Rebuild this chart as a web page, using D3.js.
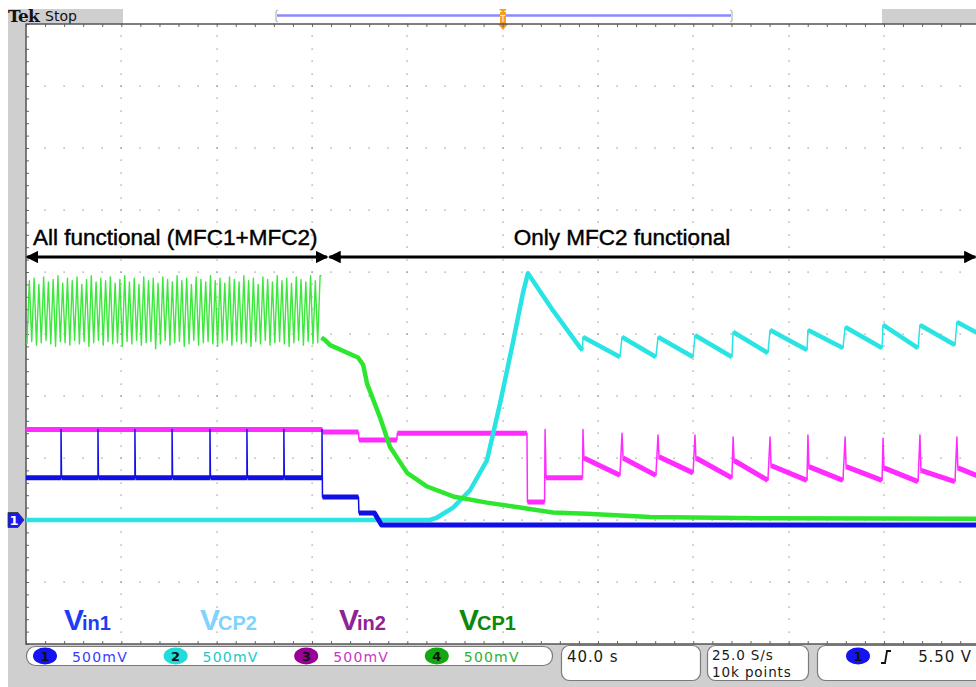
<!DOCTYPE html>
<html>
<head>
<meta charset="utf-8">
<script src="https://cdn.jsdelivr.net/npm/d3@7"></script>
<style>
  html, body { margin: 0; padding: 0; background: #fff; }
  svg { display: block; }
</style>
</head>
<body>
<svg id="scope" width="976" height="687"></svg>
<script>
// horizontal: seconds (40 s/div), vertical: volts (500 mV/div), 0 V = channel 1 marker
const timeDomain = [0, 400];
const voltDomain = [-1, 4];

// Vin1 (ch1, blue)
const vin1 = [
  [0, 0.34], [14.7, 0.34], [14.7, 0.73], [14.9, 0.34], [30.2, 0.34], [30.2, 0.73], [30.4, 0.34],
  [45.7, 0.34], [45.7, 0.73], [45.9, 0.34], [61.3, 0.34], [61.3, 0.73], [61.5, 0.34],
  [77.2, 0.34], [77.2, 0.73], [77.4, 0.34], [92.7, 0.34], [92.7, 0.73], [92.9, 0.34],
  [108.2, 0.34], [108.2, 0.73], [108.4, 0.34], [124.2, 0.34], [124.2, 0.73], [124.4, 0.185],
  [139.5, 0.185], [139.7, 0.056], [146.2, 0.056], [149.2, -0.04], [400, -0.04]
];

// Vin2 (ch3, magenta)
const vin2 = [
  [0, 0.73], [124.4, 0.73], [124.6, 0.71], [139.5, 0.71], [139.7, 0.645], [155.6, 0.645],
  [155.8, 0.70], [210.2, 0.70], [210.4, 0.145], [217.6, 0.145], [217.8, 0.73], [218.2, 0.34],
  [233.5, 0.34], [233.7, 0.73], [234.1, 0.50], [249.2, 0.36],
  [250.1, 0.70], [250.5, 0.50], [264.3, 0.36],
  [265.2, 0.685], [265.6, 0.51], [279.9, 0.38],
  [280.7, 0.685], [281.1, 0.50], [296.2, 0.34],
  [296.7, 0.67], [297.1, 0.48], [311.3, 0.32],
  [312.2, 0.67], [312.6, 0.44], [327.7, 0.32],
  [328.1, 0.685], [328.5, 0.43], [342.8, 0.32],
  [343.7, 0.67], [344.1, 0.43], [359.2, 0.32],
  [359.6, 0.66], [360.0, 0.42], [374.3, 0.31],
  [375.1, 0.685], [375.5, 0.40], [389.8, 0.31],
  [390.6, 0.67], [391.0, 0.42], [400, 0.35]
];

// VCP2 (ch2, cyan)
const vcp2 = [
  [0, 0], [169.5, 0], [172.5, 0.02], [179.2, 0.10], [186.3, 0.24], [193.4, 0.48], [198.9, 0.94],
  [204.3, 1.43], [208.5, 1.83], [210.6, 1.99], [221.1, 1.69], [232.5, 1.39], [233.5, 1.37],
  [233.7, 1.476], [249.2, 1.315],
  [250.1, 1.476], [264.3, 1.315],
  [265.2, 1.476], [279.9, 1.315],
  [280.7, 1.49], [296.2, 1.315],
  [296.7, 1.516], [311.3, 1.347],
  [312.2, 1.532], [327.7, 1.371],
  [328.1, 1.532], [342.8, 1.387],
  [343.7, 1.556], [359.2, 1.387],
  [359.6, 1.573], [374.3, 1.387],
  [375.1, 1.573], [389.8, 1.411],
  [390.6, 1.597], [400, 1.50]
];

// VCP1 (ch4, green): oscillation teeth [trough time, trough V, peak V]
const vcp1Teeth = [
  [0.4, 1.42, 1.93], [2.4, 1.44, 1.95], [4.4, 1.41, 1.90], [6.4, 1.43, 1.96], [8.4, 1.45, 1.92],
  [10.4, 1.42, 1.94], [12.4, 1.40, 1.97], [14.4, 1.44, 1.91], [16.4, 1.43, 1.95], [18.4, 1.41, 1.93],
  [20.4, 1.45, 1.96], [22.4, 1.42, 1.90], [24.4, 1.44, 1.94], [26.4, 1.40, 1.97], [28.4, 1.43, 1.92],
  [30.4, 1.45, 1.95], [32.4, 1.41, 1.93], [34.4, 1.44, 1.96], [36.4, 1.42, 1.91], [38.4, 1.43, 1.94],
  [40.4, 1.40, 1.97], [42.4, 1.44, 1.92], [44.4, 1.42, 1.95], [46.4, 1.45, 1.90], [48.4, 1.41, 1.96],
  [50.4, 1.43, 1.93], [52.4, 1.44, 1.95], [54.4, 1.38, 1.91], [56.4, 1.42, 1.96], [58.4, 1.45, 1.94],
  [60.4, 1.41, 1.92], [62.4, 1.43, 1.97], [64.4, 1.44, 1.93], [66.4, 1.40, 1.95], [68.4, 1.42, 1.90],
  [70.4, 1.45, 1.96], [72.4, 1.41, 1.94], [74.4, 1.43, 1.92], [76.4, 1.44, 1.97], [78.4, 1.42, 1.93],
  [80.4, 1.40, 1.95], [82.4, 1.43, 1.91], [84.4, 1.45, 1.96], [86.4, 1.41, 1.94], [88.4, 1.44, 1.92],
  [90.4, 1.42, 1.97], [92.4, 1.43, 1.93], [94.4, 1.40, 1.95], [96.4, 1.44, 1.90], [98.4, 1.42, 1.96],
  [100.4, 1.45, 1.94], [102.4, 1.41, 1.92], [104.4, 1.43, 1.97], [106.4, 1.44, 1.93], [108.4, 1.42, 1.95],
  [110.4, 1.40, 1.91], [112.4, 1.43, 1.96], [114.4, 1.45, 1.94], [116.4, 1.41, 1.92], [118.4, 1.44, 1.97],
  [120.4, 1.42, 1.93], [122.4, 1.43, 1.97]
];
// VCP1 after MFC1 stops
const vcp1Decay = [
  [124.0, 1.47], [125.5, 1.45], [127.6, 1.41], [139.3, 1.31], [141.5, 1.25], [143.1, 1.10],
  [148.5, 0.83], [152.7, 0.59], [159.9, 0.38], [168.3, 0.27], [179.2, 0.19], [193.4, 0.14],
  [207.3, 0.10], [221.1, 0.06], [235.4, 0.05], [261.8, 0.025], [308, 0.015], [400, 0.01]
];

const channelIds = ['1', '2', '3', '4'];
const channelScales = ['500mV', '500mV', '500mV', '500mV'];
const traceLabels = [['V', 'in1'], ['V', 'CP2'], ['V', 'in2'], ['V', 'CP1']];
const timebase = '40.0 s';
const acquisition = ['25.0 S/s', '10k points'];
const triggerLevel = '5.50 V';
const phases = ['All functional (MFC1+MFC2)', 'Only MFC2 functional'];
const phaseSpans = [[0.4, 126.3], [127.3, 398.4]];

const svg = d3.select('#scope');
const pLeft = 26, pTop = 24, divW = 95.33, divH = 62;
const pRight = pLeft + 10 * divW, pBottom = pTop + 10 * divH;

const x = d3.scaleLinear().domain(timeDomain).range([pLeft, pRight]);
const y = d3.scaleLinear().domain(voltDomain).range([pBottom, pTop]);

// Background frame
svg.append('rect').attr('x', 8).attr('y', 9).attr('width', 968).attr('height', 678).attr('fill', '#cfcfcf');
svg.append('rect').attr('x', pLeft).attr('y', pTop).attr('width', pRight - pLeft).attr('height', pBottom - pTop).attr('fill', '#fff');

// Header: record view
svg.append('rect').attr('x', 123).attr('y', 9).attr('width', 759).attr('height', 15).attr('fill', '#fff');
svg.append('line').attr('x1', 277).attr('x2', 731).attr('y1', 15.5).attr('y2', 15.5)
  .attr('stroke', '#8a8aff').attr('stroke-width', 2.5);
[[276, 1], [732, -1]].forEach(([bx, d]) => {
  svg.append('path')
    .attr('d', `M${bx + 2 * d},10 L${bx},11 L${bx},21 L${bx + 2 * d},22`)
    .attr('fill', 'none').attr('stroke', '#aaa').attr('stroke-width', 1);
});
svg.append('rect').attr('x', 500).attr('y', 12).attr('width', 6).attr('height', 13).attr('fill', '#f5a020');
svg.append('path').attr('d', 'M499,9 L507,9 L503,13 Z').attr('fill', '#f5a020');
svg.append('path').attr('d', 'M498,24 L508,24 L503,30 Z').attr('fill', '#f59a1e');
svg.append('text').attr('x', 503).attr('y', 22).attr('text-anchor', 'middle')
  .attr('font-family', 'DejaVu Sans').attr('font-size', 8).attr('fill', '#fff').text('T');

svg.append('text').attr('x', 8).attr('y', 22)
  .attr('font-family', 'DejaVu Serif').attr('font-weight', 'bold').attr('font-size', 17)
  .attr('letter-spacing', -0.8).attr('fill', '#111').text('Tek');
svg.append('text').attr('x', 45).attr('y', 21)
  .attr('font-family', 'DejaVu Sans').attr('font-size', 14).attr('fill', '#111').text('Stop');

// Graticule dots
const grid = svg.append('g').attr('fill', '#8c8c8c');
const minorT = d3.range(timeDomain[0], timeDomain[1] + 0.1, 8);
const majorT = d3.range(timeDomain[0] + 40, timeDomain[1], 40);
const minorV = d3.range(voltDomain[0], voltDomain[1] + 0.01, 0.1);
const majorV = d3.range(voltDomain[0] + 0.5, voltDomain[1] - 0.01, 0.5);
majorT.forEach(t => {
  minorV.forEach(v => grid.append('rect').attr('x', Math.round(x(t)) - 0.5).attr('y', Math.round(y(v)) - 0.5).attr('width', 1.2).attr('height', 1.2));
});
majorV.forEach(v => {
  minorT.forEach(t => grid.append('rect').attr('x', Math.round(x(t)) - 0.5).attr('y', Math.round(y(v)) - 0.5).attr('width', 1.2).attr('height', 1.2));
});

// Border ticks
const tickStyle = g => {
  g.select('.domain').remove();
  g.selectAll('line').attr('stroke', '#666');
};
svg.append('g').attr('transform', `translate(0,${pTop})`)
  .call(d3.axisBottom(x).tickValues(minorT).tickSize(3).tickFormat('')).call(tickStyle);
svg.append('g').attr('transform', `translate(0,${pBottom})`)
  .call(d3.axisTop(x).tickValues(minorT).tickSize(3).tickFormat('')).call(tickStyle);
svg.append('g').attr('transform', `translate(${pLeft},0)`)
  .call(d3.axisRight(y).tickValues(minorV).tickSize(3).tickFormat('')).call(tickStyle);

// Plot borders
svg.append('path')
  .attr('d', `M${pRight + 5},${pTop} L${pLeft},${pTop} L${pLeft},${pBottom} L${pRight + 5},${pBottom}`)
  .attr('fill', 'none').attr('stroke', '#555').attr('stroke-width', 1.5);

// Traces: thin line through every point, thicker band over the slow (noisy) stretches
const line = d3.line().x(d => x(d[0])).y(d => y(d[1]));
const plot = svg.append('g').attr('fill', 'none').attr('stroke-linejoin', 'round');

function drawTrace(data, color, band) {
  plot.append('path').datum(data).attr('d', line).attr('stroke', color).attr('stroke-width', 1.5);
  const runs = [];
  let run = null;
  for (let i = 1; i < data.length; i++) {
    if (data[i][0] - data[i - 1][0] >= 1) {
      if (!run) { run = [data[i - 1]]; runs.push(run); }
      run.push(data[i]);
    } else {
      run = null;
    }
  }
  plot.append('g').selectAll('path').data(runs).join('path')
    .attr('d', line).attr('stroke', color).attr('stroke-width', band);
}

drawTrace(vin2, '#ff2bff', 5);
drawTrace(vcp2, '#2ae4e4', 4.5);

const teethPts = [];
vcp1Teeth.forEach(([t, lo, hi]) => { teethPts.push([t, lo]); teethPts.push([t + 1.0, hi]); });
teethPts.push([124.0, 1.97]);
plot.append('path').datum(teethPts).attr('d', line)
  .attr('stroke', '#3be83b').attr('stroke-width', 1.4);
drawTrace(vcp1Decay, '#2fe62f', 4.5);

drawTrace(vin1, '#1010e6', 5);

// Channel 1 ground marker
const gy = y(0);
svg.append('path').attr('d', `M8,${gy - 7.5} L18,${gy - 7.5} L24,${gy} L18,${gy + 7.5} L8,${gy + 7.5} Z`)
  .attr('fill', '#1a1aee').attr('stroke', '#333').attr('stroke-width', 0.8);
svg.append('text').attr('x', 14).attr('y', gy + 5).attr('text-anchor', 'middle')
  .attr('font-family', 'DejaVu Sans').attr('font-weight', 'bold').attr('font-size', 13)
  .attr('fill', '#fff').text('1');

// Phase annotations
const arrowY = 257;
const defs = svg.append('defs');
defs.append('marker').attr('id', 'ah').attr('viewBox', '0 0 10 10').attr('refX', 9).attr('refY', 5)
  .attr('markerWidth', 4.2).attr('markerHeight', 4.2).attr('orient', 'auto-start-reverse')
  .append('path').attr('d', 'M0,0 L10,5 L0,10 Z').attr('fill', '#000');
phaseSpans.forEach(([a, b]) => {
  svg.append('line').attr('x1', x(a)).attr('x2', x(b)).attr('y1', arrowY).attr('y2', arrowY)
    .attr('stroke', '#000').attr('stroke-width', 3)
    .attr('marker-start', 'url(#ah)').attr('marker-end', 'url(#ah)');
});
const phaseText = (tx, s, anchor) => svg.append('text').attr('x', tx).attr('y', 245)
  .attr('text-anchor', anchor)
  .attr('font-family', 'Liberation Sans, Arial, sans-serif').attr('font-size', 22.5)
  .attr('fill', '#000').attr('stroke', '#000').attr('stroke-width', 0.45)
  .text(s);
phaseText(33, phases[0], 'start');
phaseText(622, phases[1], 'middle');

// Trace name labels
const labelColors = ['#1f3cf5', '#80d2ff', '#8e2494', '#0a8a0a'];
const labelX = [64, 200, 339, 459];
traceLabels.forEach(([main, sub], i) => {
  const t = svg.append('text').attr('x', labelX[i]).attr('y', 630)
    .attr('font-family', 'Liberation Sans, Arial, sans-serif').attr('font-weight', 'bold')
    .attr('fill', labelColors[i]);
  t.append('tspan').attr('font-size', 30).text(main);
  t.append('tspan').attr('font-size', 20).attr('dx', -2).text(sub);
});

// Status bar: channel scales
const chFill = ['#1414f2', '#22dcdc', '#980098', '#12a812'];
const chText = ['#3a3aff', '#20c8c8', '#c838c8', '#30b030'];
svg.append('rect').attr('x', 26.5).attr('y', 646.5).attr('width', 526).attr('height', 19).attr('rx', 9)
  .attr('fill', '#fff').attr('stroke', '#7a7a7a').attr('stroke-width', 1.2);
channelIds.forEach((id, i) => {
  const cx = 45 + i * 130.6;
  svg.append('ellipse').attr('cx', cx).attr('cy', 656).attr('rx', 12).attr('ry', 8.5).attr('fill', chFill[i]);
  svg.append('text').attr('x', cx).attr('y', 661).attr('text-anchor', 'middle')
    .attr('font-family', 'DejaVu Sans').attr('font-weight', 'bold').attr('font-size', 13)
    .attr('fill', '#111').text(id);
  svg.append('text').attr('x', cx + 27).attr('y', 661.5)
    .attr('font-family', 'DejaVu Sans').attr('font-size', 14).attr('letter-spacing', 1.2)
    .attr('fill', chText[i]).text(channelScales[i]);
});

// Status bar: timebase, acquisition, trigger
const boxes = [[561, 139], [707, 101], [817, 175]];
boxes.forEach(([bx, bw]) => {
  svg.append('rect').attr('x', bx + 0.5).attr('y', 645.5).attr('width', bw).attr('height', 35).attr('rx', 8)
    .attr('fill', '#fff').attr('stroke', '#7a7a7a').attr('stroke-width', 1.2);
});
const statusText = (tx, ty, s, size, anchor) => svg.append('text').attr('x', tx).attr('y', ty)
  .attr('text-anchor', anchor || 'start')
  .attr('font-family', 'DejaVu Sans').attr('font-size', size).attr('letter-spacing', 0.9)
  .attr('fill', '#1a1a1a').text(s);
statusText(567, 662, timebase, 15);
statusText(712, 659.5, acquisition[0], 13.5);
statusText(712, 676.5, acquisition[1], 13.5);
svg.append('ellipse').attr('cx', 858).attr('cy', 656).attr('rx', 12).attr('ry', 8.5).attr('fill', '#1414f2');
svg.append('text').attr('x', 858).attr('y', 661).attr('text-anchor', 'middle')
  .attr('font-family', 'DejaVu Sans').attr('font-weight', 'bold').attr('font-size', 13)
  .attr('fill', '#111').text(channelIds[0]);
svg.append('path').attr('d', 'M881,663 L885,663 L887,651 L891,651')
  .attr('fill', 'none').attr('stroke', '#111').attr('stroke-width', 1.8);
statusText(972, 662, triggerLevel, 15, 'end');
</script>
</body>
</html>
